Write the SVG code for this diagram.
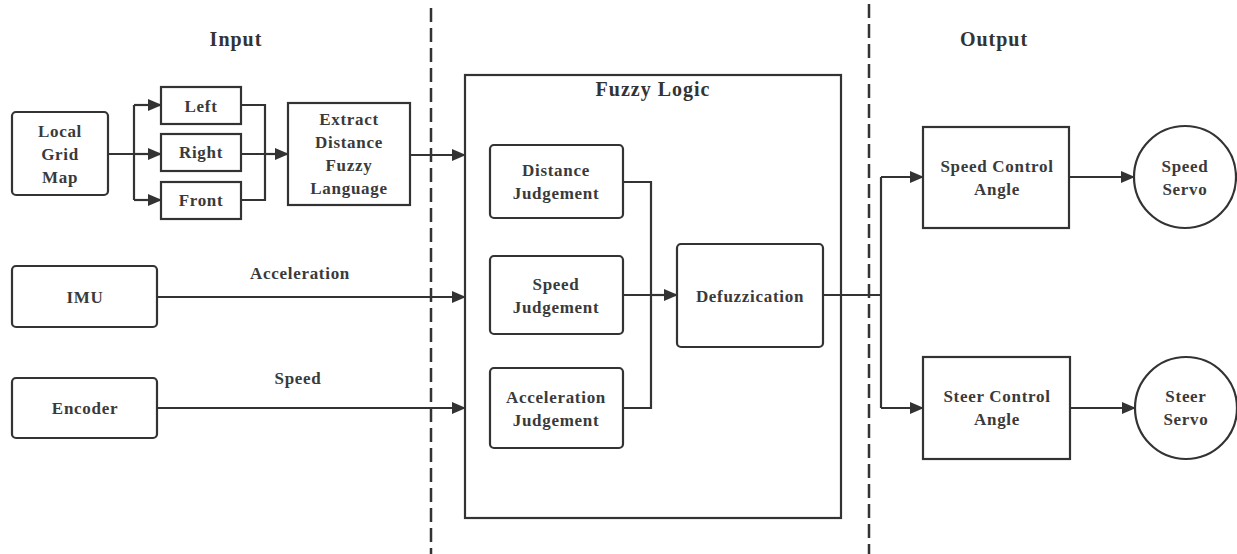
<svg xmlns="http://www.w3.org/2000/svg" width="1237" height="554" viewBox="0 0 1237 554">
  <style>
    .box { fill: #ffffff; stroke: #333333; stroke-width: 2.2; }
    .lbl { font-family: "Liberation Serif", "DejaVu Serif", serif; font-weight: bold; font-size: 17px; fill: #3a3a3a; text-anchor: middle; letter-spacing: 0.7px; }
    .title { font-family: "Liberation Serif", "DejaVu Serif", serif; font-weight: bold; font-size: 20px; fill: #333333; text-anchor: middle; letter-spacing: 1px; }
    .wire { fill: none; stroke: #333333; stroke-width: 2.2; }
    .arrow { fill: none; stroke: #333333; stroke-width: 2.2; marker-end: url(#head); }
    .divider { fill: none; stroke: #333333; stroke-width: 2.5; stroke-dasharray: 14 6; }
  </style>
  <defs>
    <marker id="head" markerUnits="userSpaceOnUse" markerWidth="14" markerHeight="12" refX="13" refY="6" orient="auto">
      <path d="M0,0 L14,6 L0,12 Z" fill="#333333"/>
    </marker>
  </defs>
  <rect width="1237" height="554" fill="#ffffff"/>

  <!-- section dividers -->
  <g id="dividers">
    <line class="divider" x1="431" y1="8" x2="431" y2="554"/>
    <line class="divider" x1="869" y1="4" x2="869" y2="554"/>
  </g>

  <!-- section titles -->
  <g id="titles">
    <text class="title" x="236" y="46">Input</text>
    <text class="title" x="994" y="46">Output</text>
  </g>

  <!-- fuzzy logic container -->
  <g id="fuzzy-logic">
    <rect class="box" x="465" y="75" width="376" height="443"/>
    <text class="title" x="653" y="96">Fuzzy Logic</text>
  </g>

  <!-- connectors -->
  <g id="connectors">
    <!-- grid map fan-out -->
    <path class="wire" d="M108,154 H134 M134,105 V200"/>
    <path class="arrow" d="M134,105 H161"/>
    <path class="arrow" d="M134,154 H161"/>
    <path class="arrow" d="M134,200 H161"/>
    <!-- fan-in to extraction -->
    <path class="wire" d="M241,105 H265 V200 H241 M241,154 H265"/>
    <path class="arrow" d="M265,154 H288"/>
    <!-- extraction to fuzzy logic -->
    <path class="arrow" d="M410,155 H465"/>
    <!-- sensors to fuzzy logic -->
    <path class="arrow" d="M157,297 H465"/>
    <path class="arrow" d="M157,408 H465"/>
    <!-- judgements to defuzzication -->
    <path class="wire" d="M623,182 H651 V408 H623 M623,295 H651"/>
    <path class="arrow" d="M651,295 H677"/>
    <!-- defuzzication to outputs -->
    <path class="wire" d="M823,295 H881 M881,177 V408"/>
    <path class="arrow" d="M881,177 H923"/>
    <path class="arrow" d="M881,408 H923"/>
    <path class="arrow" d="M1069,177 H1134"/>
    <path class="arrow" d="M1070,408 H1135"/>
    <!-- edge labels -->
    <text class="lbl" x="300" y="279">Acceleration</text>
    <text class="lbl" x="298" y="384">Speed</text>
  </g>

  <!-- input nodes -->
  <g id="local-grid-map">
    <rect class="box" x="12" y="112" width="96" height="83" rx="4"/>
    <text class="lbl" x="60" y="137">Local</text>
    <text class="lbl" x="60" y="160">Grid</text>
    <text class="lbl" x="60" y="183">Map</text>
  </g>
  <g id="left">
    <rect class="box" x="161" y="87" width="80" height="37"/>
    <text class="lbl" x="201" y="112">Left</text>
  </g>
  <g id="right">
    <rect class="box" x="161" y="134" width="80" height="37"/>
    <text class="lbl" x="201" y="158">Right</text>
  </g>
  <g id="front">
    <rect class="box" x="161" y="182" width="80" height="37"/>
    <text class="lbl" x="201" y="206">Front</text>
  </g>
  <g id="extract">
    <rect class="box" x="288" y="103" width="122" height="102"/>
    <text class="lbl" x="349" y="125">Extract</text>
    <text class="lbl" x="349" y="148">Distance</text>
    <text class="lbl" x="349" y="171">Fuzzy</text>
    <text class="lbl" x="349" y="194">Language</text>
  </g>
  <g id="imu">
    <rect class="box" x="12" y="266" width="145" height="61" rx="4"/>
    <text class="lbl" x="85" y="303">IMU</text>
  </g>
  <g id="encoder">
    <rect class="box" x="12" y="378" width="145" height="60" rx="4"/>
    <text class="lbl" x="85" y="414">Encoder</text>
  </g>

  <!-- fuzzy logic stages -->
  <g id="distance-judgement">
    <rect class="box" x="490" y="145" width="133" height="73" rx="4"/>
    <text class="lbl" x="556" y="176">Distance</text>
    <text class="lbl" x="556" y="199">Judgement</text>
  </g>
  <g id="speed-judgement">
    <rect class="box" x="490" y="256" width="133" height="78" rx="4"/>
    <text class="lbl" x="556" y="290">Speed</text>
    <text class="lbl" x="556" y="313">Judgement</text>
  </g>
  <g id="acceleration-judgement">
    <rect class="box" x="490" y="368" width="133" height="80" rx="4"/>
    <text class="lbl" x="556" y="403">Acceleration</text>
    <text class="lbl" x="556" y="426">Judgement</text>
  </g>
  <g id="defuzzication">
    <rect class="box" x="677" y="244" width="146" height="103" rx="4"/>
    <text class="lbl" x="750" y="302">Defuzzication</text>
  </g>

  <!-- output nodes -->
  <g id="speed-control-angle">
    <rect class="box" x="923" y="127" width="146" height="101"/>
    <text class="lbl" x="997" y="172">Speed Control</text>
    <text class="lbl" x="997" y="195">Angle</text>
  </g>
  <g id="speed-servo">
    <circle class="box" cx="1185" cy="177" r="51"/>
    <text class="lbl" x="1185" y="172">Speed</text>
    <text class="lbl" x="1185" y="195">Servo</text>
  </g>
  <g id="steer-control-angle">
    <rect class="box" x="923" y="357" width="147" height="102"/>
    <text class="lbl" x="997" y="402">Steer Control</text>
    <text class="lbl" x="997" y="425">Angle</text>
  </g>
  <g id="steer-servo">
    <circle class="box" cx="1186" cy="408" r="51"/>
    <text class="lbl" x="1186" y="402">Steer</text>
    <text class="lbl" x="1186" y="425">Servo</text>
  </g>
</svg>
